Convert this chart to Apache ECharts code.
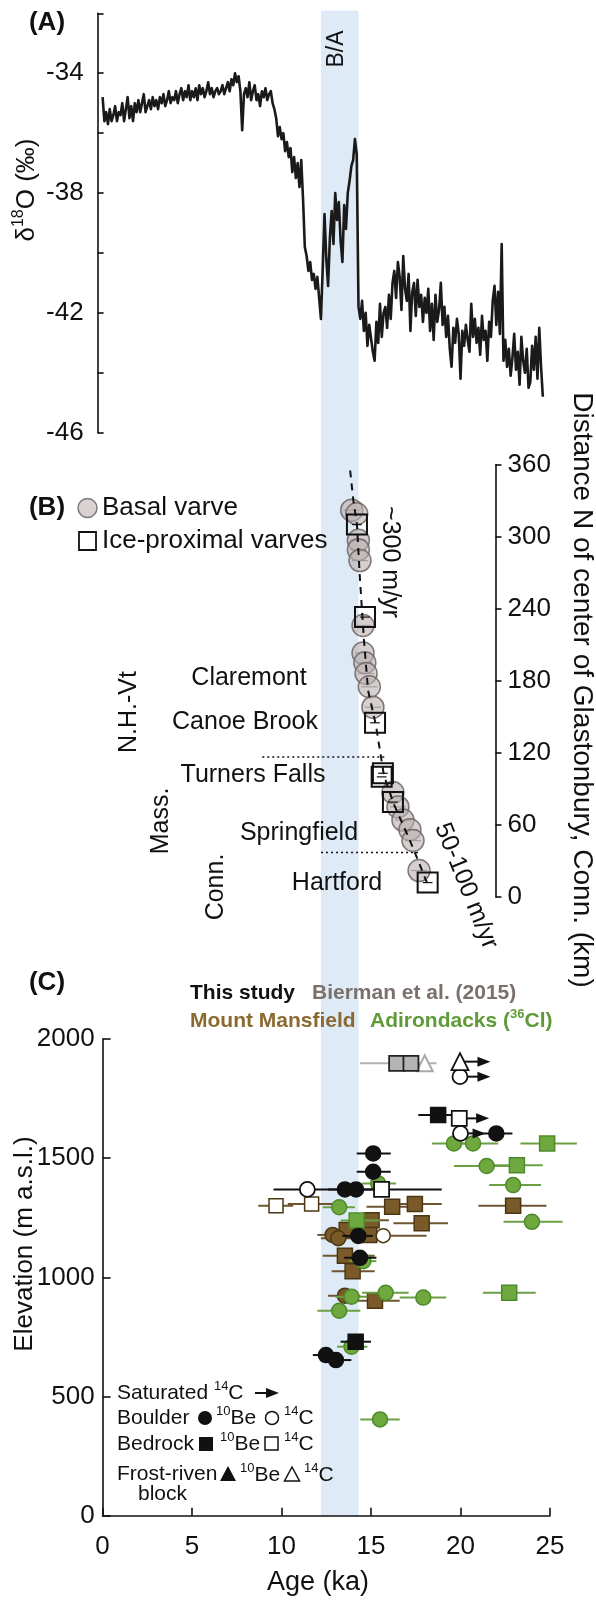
<!DOCTYPE html>
<html><head><meta charset="utf-8">
<script src="https://cdn.jsdelivr.net/npm/echarts@6/dist/echarts.min.js"></script>
<style>html,body{margin:0;padding:0;background:#fff;}#c{width:596px;height:1601px;}</style>
</head><body><div id="c"></div>
<script>
// ---------------- DATA ----------------
// Bolling/Allerod band (ka)
const bandKa = [12.2, 14.3];

// Panel A: delta18O record, one value every 0.1 ka starting at 0 ka
const d18oStartKa = 0, d18oStepKa = 0.1;
const d18o = [
-34.8,-35.6,-35.3,-35.7,-35.2,-35.6,-35.4,-35.1,-35.6,-35.3,
-35.4,-35.0,-35.6,-35.2,-34.8,-35.5,-35.1,-35.6,-35.0,-35.3,
-34.9,-35.3,-35.0,-34.7,-35.3,-35.1,-34.9,-35.2,-34.8,-35.1,
-34.9,-35.2,-34.8,-35.0,-34.7,-35.1,-34.9,-34.6,-35.0,-34.8,
-34.9,-34.6,-35.0,-34.7,-34.5,-34.9,-34.6,-34.8,-34.4,-34.9,
-34.6,-34.8,-34.5,-34.9,-34.4,-34.7,-34.5,-34.8,-34.6,-34.3,
-34.7,-34.5,-34.8,-34.6,-34.5,-34.7,-34.6,-34.4,-34.7,-34.5,
-34.3,-34.6,-34.2,-34.4,-34.0,-34.3,-34.1,-34.6,-35.9,-34.7,
-34.5,-34.8,-34.3,-34.9,-34.6,-34.4,-34.9,-34.7,-35.1,-34.6,
-34.8,-34.5,-34.9,-34.7,-34.6,-35.0,-35.2,-35.5,-36.1,-35.8,
-36.2,-36.0,-36.6,-36.3,-36.8,-36.5,-37.3,-36.8,-37.5,-37.0,
-37.8,-36.9,-38.2,-39.8,-40.1,-40.6,-40.3,-40.9,-40.7,-41.2,
-40.8,-41.5,-42.2,-40.5,-38.7,-40.2,-41.1,-39.5,-38.6,-39.7,
-38.0,-38.9,-38.3,-39.6,-40.3,-38.4,-39.2,-38.0,-37.6,-37.1,
-36.9,-36.2,-36.7,-41.8,-42.2,-41.6,-42.6,-42.0,-43.1,-42.4,
-42.4,-43.3,-43.6,-42.3,-43.0,-41.7,-42.8,-42.0,-41.8,-42.5,
-41.4,-42.2,-41.0,-40.6,-41.5,-40.3,-40.8,-41.9,-40.1,-41.2,
-41.6,-40.7,-42.6,-41.3,-41.0,-42.1,-40.9,-41.8,-41.4,-42.3,
-41.5,-42.0,-41.2,-42.6,-41.7,-42.9,-41.4,-42.3,-41.9,-41.0,
-42.4,-41.8,-42.8,-42.1,-43.2,-43.8,-42.5,-43.0,-42.2,-42.7,
-44.2,-42.6,-43.1,-42.4,-42.9,-43.3,-41.7,-42.8,-42.2,-43.0,
-42.5,-43.4,-42.1,-42.9,-42.6,-43.6,-42.3,-42.8,-41.6,-41.1,
-42.4,-41.3,-42.7,-39.7,-43.6,-42.9,-43.8,-43.2,-44.1,-43.5,
-42.7,-43.9,-43.3,-44.4,-42.8,-43.6,-44.0,-43.2,-44.5,-44.3,
-43.1,-43.9,-42.8,-44.2,-42.5,-43.8,-44.8
];
const d18oTicks = [-34, -38, -42, -46];

// Panel B: varve chronology [age ka, distance km]
const basalVarves = [
 [13.92,322],[14.20,319],[14.29,297],[14.29,289],[14.38,280],[14.55,226],
 [14.55,203],[14.65,195],[14.72,186],[14.90,175],[15.10,158],
 [16.22,87],[16.50,75],[16.78,64],[17.17,56],[17.34,47],[17.68,22]
];
const iceProximalVarves = [
 [14.21,310],[14.66,233],[15.22,145],[15.66,103],[15.59,100],[16.22,79],[18.16,12]
];
const varveErrKa = 0.45;
const retreatTrend = [
 [13.83,355],[14.00,331],[14.21,310],[14.38,264],[14.60,214],[14.83,172],
 [15.27,143],[15.72,101],[16.28,77],[17.17,47],[18.12,12]
];
const stateLineNHMass = [[8.92,116.5],[15.8,116.5]];
const stateLineMassConn = [[12.2,37],[17.74,37]];
const distanceTicks = [0, 60, 120, 180, 240, 300, 360];

// Panel C: exposure ages [age ka, elevation m, errLow ka, errHigh ka]
const thisStudyBoulder10Be = [
 [22.0,1604,20.9,22.9],[15.12,1520,14.2,16.1],[15.12,1443,14.2,16.1],
 [13.54,1369,12.6,14.5],[14.16,1369,13.2,15.1],[14.29,1174,13.4,15.1],
 [14.38,1082,13.5,15.3],[12.48,674,11.75,13.2],[13.04,653,12.3,13.9]
];
const thisStudyBoulder14C = [[11.44,1369,9.55,13.5]];
const thisStudyBedrock10Be = [[18.75,1681,17.64,19.6],[14.14,730,13.3,15.0]];
const thisStudyBedrock14C = [[15.59,1369,14.6,18.95]];
// saturated 14C: [age, elevation, arrow tip age]
const saturatedBoulder14C = [[20.0,1604,21.4],[19.97,1842,21.67]];
const saturatedBedrock14C = [[19.93,1667,21.6]];
const saturatedFrost14C = [[19.97,1905,21.67]];

const biermanBedrock10Be = [[16.43,1898,14.38,18.66],[17.23,1898,17.23,17.23]];
const biermanFrost14C = [[18.0,1898]];

const mansfieldBedrock10Be = [
 [16.18,1296,14.75,17.4],[17.45,1308,16.4,18.95],[22.94,1300,21.0,24.8],
 [15.03,1240,14.0,16.0],[17.83,1227,16.25,19.3],[13.64,1199,12.7,14.7],
 [14.90,1178,13.9,15.8],[13.54,1091,12.3,15.2],[13.97,1026,12.8,15.2],
 [15.22,902,13.64,16.6]
];
const mansfieldBoulder10Be = [[12.85,1178,12.0,13.7],[13.17,1164,12.2,14.1],[13.54,923,12.6,14.4]];
const mansfieldBedrock14C = [[9.69,1300,8.7,10.65],[11.68,1308,10.35,12.9]];
const mansfieldBoulder14C = [[15.68,1175,13.0,18.1]];

const adirondackBoulder36Cl = [
 [19.63,1562,18.4,20.3],[20.7,1562,19.9,22.1],[21.46,1467,19.63,22.9],
 [22.94,1387,21.6,24.5],[23.99,1233,22.4,25.7],[15.4,1394,14.5,16.4],
 [13.22,1294,12.3,14.1],[14.57,1068,13.8,15.3],[13.91,919,13.0,14.8],
 [15.82,935,14.5,17.1],[17.92,915,16.6,19.2],[13.22,860,12.0,14.4],
 [13.91,709,13.1,14.8],[15.5,404,14.4,16.6]
];
const adirondackBedrock36Cl = [
 [23.15,1470,21.6,24.6],[24.84,1562,23.35,26.5],[14.2,1238,13.3,15.5],[22.72,935,21.25,24.2]
];
const ageTicks = [0, 5, 10, 15, 20, 25];
const elevationTicks = [0, 500, 1000, 1500, 2000];

// ---------------- STYLE ----------------
const FONT = "'Liberation Sans', Arial, sans-serif";
const INK = '#111';
const BROWN = '#7a5a28', BROWN_D = '#4a3614', BROWN_BAR = '#6e5430';
const GREEN = '#6ea83f', GREEN_D = '#4e8a2b', GREEN_BAR = '#6aa043';
const GRAY = '#b4b4b4', GRAY_LINE = '#b3b3b3';

const chart = echarts.init(document.getElementById('c'), null, {renderer: 'canvas'});

function errBar(color, w) {
  return function (params, api) {
    const y = api.value(1);
    const a = api.coord([api.value(2), y]);
    const b = api.coord([api.value(3), y]);
    return {type: 'line', shape: {x1: a[0], y1: a[1], x2: b[0], y2: b[1]},
            style: {stroke: color, lineWidth: w}};
  };
}
function arrowItem(params, api) {
  const a = api.coord([api.value(0), api.value(1)]);
  const b = api.coord([api.value(2), api.value(1)]);
  const hl = 13, hw = 5;
  return {type: 'group', children: [
    {type: 'line', shape: {x1: a[0], y1: a[1], x2: b[0] - hl + 2, y2: b[1]}, style: {stroke: INK, lineWidth: 2}},
    {type: 'polygon', shape: {points: [[b[0], b[1]], [b[0] - hl, b[1] - hw], [b[0] - hl, b[1] + hw]]}, style: {fill: INK}}
  ]};
}
function bars(data, color, w, xi, yi, z) {
  return {type: 'custom', xAxisIndex: xi, yAxisIndex: yi, data: data.map(d => [d[0], d[1], d[2], d[3]]),
          renderItem: errBar(color, w), encode: {x: [0, 2, 3], y: 1}, clip: false, z: z, silent: true};
}
function pts(data, symbol, size, fill, stroke, xi, yi, z, bw) {
  return {type: 'scatter', xAxisIndex: xi, yAxisIndex: yi, data: data.map(d => [d[0], d[1]]),
          symbol: symbol, symbolSize: size,
          itemStyle: {color: fill, borderColor: stroke, borderWidth: bw || 1.5, opacity: 1},
          z: z, silent: true, animation: false};
}
function withErr(data, e) { return data.map(d => [d[0], d[1], d[0] - e, d[0] + e]); }

function richStyle(size, color, bold) {
  const w = bold ? 'bold' : 'normal';
  return {
    n: {fontSize: size, fontFamily: FONT, fill: color, fontWeight: w, lineHeight: Math.round(size * 1.25)},
    s: {fontSize: Math.round(size * 0.62), fontFamily: FONT, fill: color, fontWeight: w, verticalAlign: 'top', lineHeight: Math.round(size * 0.7)}
  };
}
function T(x, y, text, o) {
  o = o || {};
  const st = {text: text, fontFamily: FONT, fontSize: o.size || 25, fontWeight: o.bold ? 'bold' : 'normal',
              fill: o.color || INK, align: o.align || 'center', verticalAlign: 'middle'};
  if (o.rich) st.rich = richStyle(o.size || 25, o.color || INK, o.bold);
  return {type: 'text', x: x, y: y, rotation: o.rot || 0, z: 20, silent: true, style: st};
}

const L = 102.6, R = 46;       // shared age-axis placement
const axisTxt = {color: INK, fontFamily: FONT, fontSize: 26, formatter: v => String(v)};
const axLine = {show: true, onZero: false, lineStyle: {color: INK, width: 1.6}};
const LG = 21; // legend font size in panel C

const graphics = [
  T(47, 23, '(A)', {bold: true, size: 26}),
  T(337, 49, 'B/A', {rot: Math.PI / 2, size: 23}),
  T(27, 190, '{n|δ}{s|18}{n|O (‰)}', {rot: Math.PI / 2, size: 26, rich: true}),

  T(47, 508, '(B)', {bold: true, size: 26}),
  {type: 'circle', shape: {cx: 87.5, cy: 508, r: 9.5}, style: {fill: 'rgba(190,180,180,0.6)', stroke: 'rgba(110,100,100,0.85)', lineWidth: 1.5}, z: 20},
  T(102, 508, 'Basal varve', {align: 'left', size: 26}),
  {type: 'rect', shape: {x: 79, y: 532, width: 17, height: 18}, style: {fill: '#fff', stroke: INK, lineWidth: 1.8}, z: 20},
  T(102, 541, 'Ice-proximal varves', {align: 'left', size: 26}),
  T(390, 562, '~300 m/yr', {rot: -Math.PI / 2, size: 25}),
  T(129, 712, 'N.H.-Vt', {rot: Math.PI / 2, size: 25}),
  T(249, 678, 'Claremont', {size: 25}),
  T(245, 722, 'Canoe Brook', {size: 25}),
  T(253, 775, 'Turners Falls', {size: 25}),
  T(161, 821, 'Mass.', {rot: Math.PI / 2, size: 25}),
  T(299, 833, 'Springfield', {size: 25}),
  T(216, 887, 'Conn.', {rot: Math.PI / 2, size: 25}),
  T(337, 883, 'Hartford', {size: 25}),
  T(466, 886, '50-100 m/yr', {rot: -1.19, size: 25}),
  T(582, 690, 'Distance N of center of Glastonbury, Conn. (km)', {rot: -Math.PI / 2, size: 28}),

  T(47, 983, '(C)', {bold: true, size: 26}),
  T(190, 993, 'This study', {align: 'left', bold: true, size: 21}),
  T(312, 993, 'Bierman et al. (2015)', {align: 'left', bold: true, size: 21, color: '#7a706c'}),
  T(190, 1021, 'Mount Mansfield', {align: 'left', bold: true, size: 21, color: '#8a6a30'}),
  T(370, 1021, '{n|Adirondacks (}{s|36}{n|Cl)}', {align: 'left', bold: true, size: 21, color: '#5f9a37', rich: true}),
  T(25, 1244, 'Elevation (m a.s.l.)', {rot: Math.PI / 2, size: 26}),
  T(318, 1583, 'Age (ka)', {size: 27}),

  T(117, 1393, '{n|Saturated }{s|14}{n|C}', {align: 'left', size: LG, rich: true}),
  {type: 'line', shape: {x1: 255, y1: 1393, x2: 267, y2: 1393}, style: {stroke: INK, lineWidth: 2}, z: 20},
  {type: 'polygon', shape: {points: [[279, 1393], [266, 1388], [266, 1398]]}, style: {fill: INK}, z: 20},
  T(117, 1418, 'Boulder', {align: 'left', size: LG}),
  {type: 'circle', shape: {cx: 205, cy: 1418, r: 7}, style: {fill: INK}, z: 20},
  T(216, 1418, '{s|10}{n|Be}', {align: 'left', size: LG, rich: true}),
  {type: 'circle', shape: {cx: 272, cy: 1418, r: 6.5}, style: {fill: '#fff', stroke: INK, lineWidth: 1.5}, z: 20},
  T(284, 1418, '{s|14}{n|C}', {align: 'left', size: LG, rich: true}),
  T(117, 1444, 'Bedrock', {align: 'left', size: LG}),
  {type: 'rect', shape: {x: 199, y: 1437, width: 14, height: 14}, style: {fill: INK}, z: 20},
  T(220, 1444, '{s|10}{n|Be}', {align: 'left', size: LG, rich: true}),
  {type: 'rect', shape: {x: 265, y: 1437, width: 13, height: 13}, style: {fill: '#fff', stroke: INK, lineWidth: 1.5}, z: 20},
  T(284, 1444, '{s|14}{n|C}', {align: 'left', size: LG, rich: true}),
  T(117, 1474, 'Frost-riven', {align: 'left', size: LG}),
  {type: 'polygon', shape: {points: [[228, 1466], [220, 1481], [236, 1481]]}, style: {fill: INK}, z: 20},
  T(240, 1475, '{s|10}{n|Be}', {align: 'left', size: LG, rich: true}),
  {type: 'polygon', shape: {points: [[292, 1467], [284.5, 1481], [299.5, 1481]]}, style: {fill: '#fff', stroke: INK, lineWidth: 1.5}, z: 20},
  T(304, 1475, '{s|14}{n|C}', {align: 'left', size: LG, rich: true}),
  T(138, 1494, 'block', {align: 'left', size: LG})
];

const option = {
  animation: false,
  backgroundColor: '#fff',
  grid: [
    {left: L, right: R, top: 10.5, bottom: 85.3},
    {left: L, right: R, top: 13.3, bottom: 1168.3},
    {left: L, right: 100.5, top: 464.5, bottom: 704},
    {left: L, right: R, top: 1039, bottom: 85.3}
  ],
  xAxis: [
    {gridIndex: 0, type: 'value', min: 0, max: 25, show: false},
    {gridIndex: 1, type: 'value', min: 0, max: 25, show: false},
    {gridIndex: 2, type: 'value', min: 0, max: 21.95, show: false},
    {gridIndex: 3, type: 'value', min: ageTicks[0], max: ageTicks[ageTicks.length - 1], interval: 5,
     axisLine: axLine, axisTick: {inside: true, length: 8, lineStyle: {color: INK, width: 1.6}},
     axisLabel: Object.assign({}, axisTxt, {margin: 18}), splitLine: {show: false}}
  ],
  yAxis: [
    {gridIndex: 0, type: 'value', min: 0, max: 1, show: false},
    {gridIndex: 1, type: 'value', min: -46, max: -32, interval: 2, offset: 5,
     axisLine: axLine, axisTick: {show: true, inside: true, length: 6, lineStyle: {color: INK, width: 1.6}},
     axisLabel: Object.assign({}, axisTxt, {margin: 14, formatter: v => d18oTicks.indexOf(v) >= 0 ? String(v) : ''}),
     splitLine: {show: false}},
    {gridIndex: 2, type: 'value', position: 'right', min: distanceTicks[0], max: distanceTicks[distanceTicks.length - 1], interval: 60,
     axisLine: axLine, axisTick: {show: true, length: 6, lineStyle: {color: INK, width: 1.6}},
     axisLabel: Object.assign({}, axisTxt, {margin: 12}), splitLine: {show: false}},
    {gridIndex: 3, type: 'value', min: elevationTicks[0], max: elevationTicks[elevationTicks.length - 1], interval: 500,
     axisLine: axLine, axisTick: {show: true, inside: true, length: 8, lineStyle: {color: INK, width: 1.6}},
     axisLabel: Object.assign({}, axisTxt, {margin: 8}), splitLine: {show: false}}
  ],
  graphic: graphics,
  series: [
    // band
    {type: 'custom', xAxisIndex: 0, yAxisIndex: 0, data: [[bandKa[0], bandKa[1], 0, 1]], encode: {x: [0, 1], y: [2, 3]},
     silent: true, z: 0,
     renderItem: function (p, api) {
       const a = api.coord([api.value(0), 1]), b = api.coord([api.value(1), 0]);
       return {type: 'rect', shape: {x: a[0], y: a[1], width: b[0] - a[0], height: b[1] - a[1]}, style: {fill: '#deeaf5'}};
     }},
    // panel A
    {type: 'line', xAxisIndex: 1, yAxisIndex: 1, showSymbol: false, silent: true, z: 5, sampling: null,
     lineStyle: {color: '#1a1a1a', width: 2.6, join: 'round'},
     data: d18o.map((v, i) => [+(d18oStartKa + i * d18oStepKa).toFixed(2), v])},
    // panel B
    {type: 'line', xAxisIndex: 2, yAxisIndex: 2, data: stateLineNHMass, showSymbol: false, silent: true, z: 3,
     lineStyle: {color: INK, width: 1.6, type: [2, 3]}},
    {type: 'line', xAxisIndex: 2, yAxisIndex: 2, data: stateLineMassConn, showSymbol: false, silent: true, z: 3,
     lineStyle: {color: INK, width: 1.6, type: [2, 3]}},
    bars(withErr(basalVarves, varveErrKa), 'rgba(90,80,80,0.7)', 1.2, 2, 2, 4),
    pts(basalVarves, 'circle', 22, 'rgba(185,175,175,0.6)', 'rgba(110,100,100,0.85)', 2, 2, 5),
    {type: 'line', xAxisIndex: 2, yAxisIndex: 2, data: retreatTrend, showSymbol: false, silent: true, z: 6,
     lineStyle: {color: INK, width: 2, type: [7, 6]}},
    bars(withErr(iceProximalVarves, varveErrKa * 0.6), INK, 1.2, 2, 2, 6),
    pts(iceProximalVarves, 'rect', 20, 'rgba(255,255,255,0)', INK, 2, 2, 7, 2),
    // panel C: Mount Mansfield
    bars(mansfieldBedrock10Be, BROWN_BAR, 2, 3, 3, 3),
    bars(mansfieldBoulder10Be, BROWN_BAR, 2, 3, 3, 3),
    bars(mansfieldBedrock14C, BROWN_BAR, 2, 3, 3, 3),
    bars(mansfieldBoulder14C, BROWN_BAR, 2, 3, 3, 3),
    pts(mansfieldBedrock10Be, 'rect', 15, BROWN, BROWN_D, 3, 3, 4),
    pts(mansfieldBoulder10Be, 'circle', 15, BROWN, BROWN_D, 3, 3, 4),
    pts(mansfieldBedrock14C, 'rect', 14, '#fff', BROWN_D, 3, 3, 4),
    pts(mansfieldBoulder14C, 'circle', 14, '#fff', BROWN_D, 3, 3, 4),
    // Adirondacks
    bars(adirondackBoulder36Cl, GREEN_BAR, 2, 3, 3, 5),
    bars(adirondackBedrock36Cl, GREEN_BAR, 2, 3, 3, 5),
    pts(adirondackBoulder36Cl, 'circle', 15, GREEN, GREEN_D, 3, 3, 6),
    pts(adirondackBedrock36Cl, 'rect', 15, GREEN, GREEN_D, 3, 3, 6),
    // Bierman et al.
    bars(biermanBedrock10Be, GRAY_LINE, 2, 3, 3, 7),
    pts(biermanFrost14C, 'triangle', 16, '#fff', '#aaa', 3, 3, 8, 2),
    pts(biermanBedrock10Be, 'rect', 15, GRAY, '#222', 3, 3, 8, 1.8),
    // this study
    {type: 'custom', xAxisIndex: 3, yAxisIndex: 3, data: saturatedBoulder14C.concat(saturatedBedrock14C, saturatedFrost14C),
     encode: {x: [0, 2], y: 1}, renderItem: arrowItem, clip: false, z: 9, silent: true},
    bars(thisStudyBoulder10Be, INK, 2, 3, 3, 9),
    bars(thisStudyBoulder14C, INK, 2, 3, 3, 9),
    bars(thisStudyBedrock10Be, INK, 2, 3, 3, 9),
    bars(thisStudyBedrock14C, INK, 2, 3, 3, 9),
    pts(thisStudyBoulder10Be, 'circle', 15, INK, INK, 3, 3, 10),
    pts(thisStudyBedrock10Be, 'rect', 15, INK, INK, 3, 3, 10),
    pts(thisStudyBoulder14C, 'circle', 15, '#fff', INK, 3, 3, 10, 1.8),
    pts(thisStudyBedrock14C, 'rect', 15, '#fff', INK, 3, 3, 10, 1.8),
    pts(saturatedBoulder14C, 'circle', 15, '#fff', INK, 3, 3, 11, 1.8),
    pts(saturatedBedrock14C, 'rect', 15, '#fff', INK, 3, 3, 11, 1.8),
    pts(saturatedFrost14C, 'triangle', 17, '#fff', INK, 3, 3, 11, 1.8)
  ]
};
chart.setOption(option);
</script></body></html>
